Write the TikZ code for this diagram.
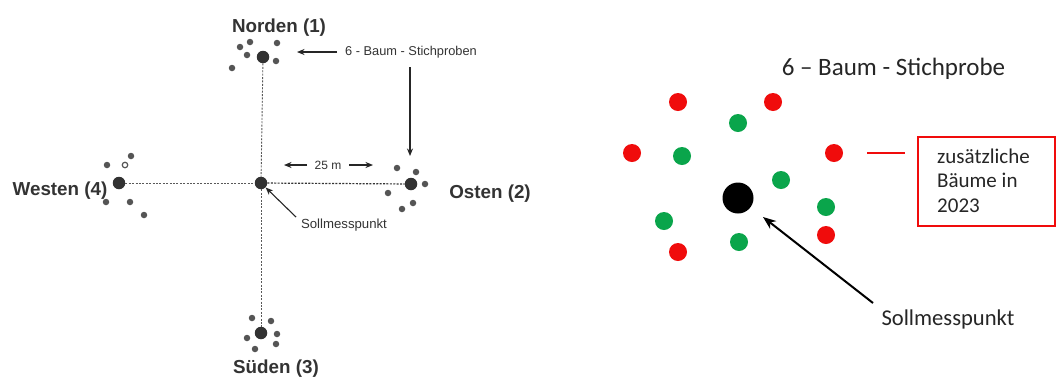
\documentclass[tikz,border=0pt]{standalone}
\usepackage{fontspec}
\setmainfont{Liberation Sans}
\newfontfamily\calfont{Carlito}
\usetikzlibrary{arrows.meta}
\definecolor{myred}{RGB}{240,12,12}
\definecolor{mygreen}{RGB}{10,165,75}
\definecolor{dotgray}{RGB}{50,50,50}
\definecolor{smallgray}{RGB}{85,85,85}
\tikzset{
  bigdot/.style={circle,fill=dotgray,inner sep=0pt,minimum size=12.5pt},
  sdot/.style={circle,fill=smallgray,inner sep=0pt,minimum size=6.5pt},
  odot/.style={circle,draw=smallgray,line width=1.2pt,inner sep=0pt,minimum size=5.5pt},
  dir/.style={font=\fontsize{18.8}{22}\selectfont\bfseries,text=black!80,anchor=base,inner sep=0pt},
  small/.style={font=\fontsize{12.8}{15}\selectfont,text=black!80,inner sep=0pt},
  axis/.style={draw=black!65,line width=0.9pt,dash pattern=on 2pt off 1.4pt},
  thinarrow/.style={draw=black!85,line width=1.1pt,-{Stealth[length=7.5pt,width=6pt]}},
  rdot/.style={circle,fill=myred,inner sep=0pt,minimum size=18pt},
  gdot/.style={circle,fill=mygreen,inner sep=0pt,minimum size=18pt},
  cal/.style={font=\calfont\fontsize{#1}{#1}\selectfont,text=black!85,inner sep=0pt}
}
\begin{document}
\begin{tikzpicture}[x=1pt,y=-1pt]
\useasboundingbox[fill=white] (0,0) rectangle (1058,376);
% ---------- left diagram ----------
\node[bigdot] (C) at (261,183) {};
\node[bigdot] (N) at (263,57) {};
\node[bigdot] (W) at (119,183) {};
\node[bigdot] (E) at (411,184) {};
\node[bigdot] (S) at (261,333) {};
\draw[axis] (N) -- (C);
\draw[axis] (C) -- (S);
\draw[axis] (W) -- (C);
\draw[axis,draw=black!80,line width=1.2pt] (C) -- (E);
% north cluster
\node[sdot] (n1) at (240,47) {};
\node[sdot] (n2) at (250,42) {};
\node[sdot] (n3) at (247,55) {};
\node[sdot] (n4) at (277,43) {};
\node[sdot] (n5) at (276,61) {};
\node[sdot] (n6) at (232,68) {};
% west cluster
\node[sdot] (w1) at (131,156) {};
\node[sdot] (w2) at (107,165) {};
\node[odot] (w3) at (125,165) {};
\node[sdot] (w4) at (106,202) {};
\node[sdot] (w5) at (130,202) {};
\node[sdot] (w6) at (144,215) {};
% east cluster
\node[sdot] (e1) at (397,168) {};
\node[sdot] (e2) at (416,172) {};
\node[sdot] (e3) at (425,184) {};
\node[sdot] (e4) at (388,193) {};
\node[sdot] (e5) at (413,203) {};
\node[sdot] (e6) at (402,209) {};
% south cluster
\node[sdot] (s1) at (252,318) {};
\node[sdot] (s2) at (271,321) {};
\node[sdot] (s3) at (277,334) {};
\node[sdot] (s4) at (247,338) {};
\node[sdot] (s5) at (276,344) {};
\node[sdot] (s6) at (255,349) {};
% labels
\node[dir] (lN) at (279,32) {Norden (1)};
\node[dir] (lW) at (60,195) {Westen (4)};
\node[dir] (lE) at (490,198) {Osten (2)};
\node[dir] (lS) at (276,373) {Süden (3)};
\node[small] (stich) at (411,52) {6 - Baum - Stichproben};
\coordinate (st1) at (337,52);
\coordinate (st2) at (297,52);
\draw[thinarrow] (st1) -- (st2);
\coordinate (sv1) at (410,67);
\coordinate (sv2) at (410,156);
\draw[thinarrow] (sv1) -- (sv2);
\node[small,font=\fontsize{12}{14}\selectfont] (dist) at (328,165) {25 m};
\coordinate (d1) at (307,165);
\coordinate (d2) at (284,165);
\coordinate (d3) at (349,165);
\coordinate (d4) at (373,165);
\draw[thinarrow] (d1) -- (d2);
\draw[thinarrow] (d3) -- (d4);
\node[small,font=\fontsize{13.2}{15}\selectfont] (soll) at (344,225) {Sollmesspunkt};
\coordinate (sa1) at (296,217);
\draw[thinarrow] (sa1) -- (C);
% ---------- right diagram ----------
\node[cal=25,anchor=base] (title) at (893.5,75) {6 – Baum - Stichprobe};
\node[rdot] (r1) at (678,102) {};
\node[rdot] (r2) at (773,102) {};
\node[rdot] (r3) at (632,153) {};
\node[rdot] (r4) at (834,153) {};
\node[rdot] (r5) at (826,235) {};
\node[rdot] (r6) at (678,252) {};
\node[gdot] (g1) at (738,123) {};
\node[gdot] (g2) at (682,156) {};
\node[gdot] (g3) at (781,180) {};
\node[gdot] (g4) at (826,207) {};
\node[gdot] (g5) at (664,221) {};
\node[gdot] (g6) at (739,242) {};
\node[circle,fill=black,inner sep=0pt,minimum size=31pt] (B) at (738,198) {};
\node[cal=22.6,anchor=base] (soll2) at (948,325) {Sollmesspunkt};
\coordinate (ra1) at (873,303);
\coordinate (ra2) at (763,217);
\draw[line width=2pt,-{Stealth[length=13pt,width=10pt]}] (ra1) -- (ra2);
\node[draw=myred,line width=1.6pt,minimum width=137pt,minimum height=89pt,inner sep=0pt] (box) at (986.5,181.5) {};
\node[cal=21,anchor=base west] (t1) at (937,163) {zusätzliche};
\node[cal=21,anchor=base west] (t2) at (937,187.5) {Bäume in};
\node[cal=21,anchor=base west] (t3) at (937,212) {2023};
\coordinate (rl1) at (867,153);
\coordinate (rl2) at (905,153);
\draw[myred,line width=1.6pt] (rl1) -- (rl2);
\end{tikzpicture}
\end{document}
